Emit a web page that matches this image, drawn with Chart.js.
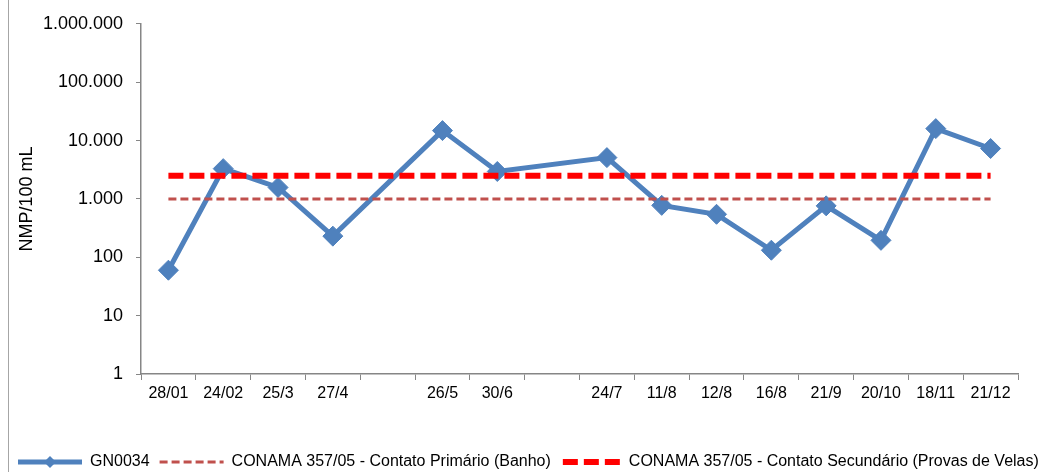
<!DOCTYPE html>
<html>
<head>
<meta charset="utf-8">
<script src="https://cdn.jsdelivr.net/npm/chart.js@4/dist/chart.umd.min.js"></script>
<style>
  html, body { margin: 0; padding: 0; background: #fff; }
  #wrap { position: relative; width: 1046px; height: 472px; }
  #borda { position: absolute; left: 8px; top: 0; width: 1px; height: 472px; background: #a6a6a6; }
</style>
</head>
<body>
<div id="wrap">
  <canvas id="myChart" width="1046" height="472"></canvas>
  <div id="borda"></div>
</div>
<script>
// datas das coletas (vazio = intervalo sem coleta)
const categorias = ['28/01', '24/02', '25/3', '27/4', '', '26/5', '30/6', '', '24/7', '11/8', '12/8', '16/8', '21/9', '20/10', '18/11', '21/12'];
// NMP/100 mL medidos no ponto GN0034
const gn0034 = [60, 3300, 1570, 230, null, 14800, 2950, null, 5100, 775, 545, 132, 760, 195, 16000, 7300];
// limites CONAMA 357/05
const contatoPrimario = [1000, 1000, 1000, 1000, 1000, 1000, 1000, 1000, 1000, 1000, 1000, 1000, 1000, 1000, 1000, 1000];
const contatoSecundario = [2500, 2500, 2500, 2500, 2500, 2500, 2500, 2500, 2500, 2500, 2500, 2500, 2500, 2500, 2500, 2500];
const ticksY = [1, 10, 100, 1000, 10000, 100000, 1000000];

const fonte = 'Liberation Sans, Arial, sans-serif';

function formataMilhar(v) {
    return String(v).replace(/\B(?=(\d{3})+(?!\d))/g, '.');
}

// legenda desenhada à mão (estilo Excel)
const legendaPlugin = {
    id: 'legendaExcel',
    afterDraw(chart) {
        const ctx = chart.ctx;
        const y = 462;
        let x = 18;
        ctx.save();
        ctx.font = '16px ' + fonte;
        ctx.textBaseline = 'middle';
        chart.data.datasets.forEach((ds, i) => {
            const w = i === 2 ? 58 : 64;
            ctx.strokeStyle = ds.borderColor;
            ctx.lineWidth = ds.borderWidth;
            ctx.setLineDash(ds.borderDash || []);
            ctx.beginPath();
            ctx.moveTo(x, y);
            ctx.lineTo(x + w, y);
            ctx.stroke();
            ctx.setLineDash([]);
            if (ds.pointRadius > 0) {
                const cx = x + w / 2, r = 6;
                ctx.fillStyle = ds.pointBackgroundColor;
                ctx.beginPath();
                ctx.moveTo(cx, y - r);
                ctx.lineTo(cx + r, y);
                ctx.lineTo(cx, y + r);
                ctx.lineTo(cx - r, y);
                ctx.closePath();
                ctx.fill();
            }
            x += w + 8;
            ctx.fillStyle = '#000';
            ctx.fillText(ds.label, x, y);
            x += ctx.measureText(ds.label).width + (i === 0 ? 10 : 12);
        });
        ctx.restore();
    }
};

const ctx = document.getElementById('myChart').getContext('2d');
const myChart = new Chart(ctx, {
    type: 'line',
    data: {
        labels: categorias,
        datasets: [{
            label: 'GN0034',
            data: gn0034,
            borderColor: '#4F81BD',
            backgroundColor: '#4F81BD',
            borderWidth: 5,
            pointStyle: 'rectRot',
            pointRadius: 10,
            pointBackgroundColor: '#4F81BD',
            pointBorderColor: '#4F81BD',
            pointBorderWidth: 1,
            spanGaps: true,
            tension: 0,
            order: 3
        }, {
            label: 'CONAMA 357/05 - Contato Primário (Banho)',
            data: contatoPrimario,
            borderColor: '#C0504D',
            borderWidth: 3,
            borderDash: [8, 4],
            pointRadius: 0,
            order: 2
        }, {
            label: 'CONAMA 357/05 - Contato Secundário (Provas de Velas)',
            data: contatoSecundario,
            borderColor: '#FF0000',
            borderWidth: 6,
            borderDash: [15, 6],
            pointRadius: 0,
            order: 1
        }]
    },
    options: {
        responsive: false,
        animation: false,
        layout: { padding: { top: 23, right: 28, bottom: 60, left: 0 } },
        plugins: {
            legend: { display: false },
            tooltip: { enabled: false }
        },
        scales: {
            x: {
                offset: true,
                grid: { offset: true, drawOnChartArea: false, color: '#868686', tickLength: 6 },
                border: { color: '#868686', width: 1.5 },
                ticks: { autoSkip: false, maxRotation: 0, color: '#000', padding: 4, font: { family: fonte, size: 16 } },
                afterFit(scale) { scale.height = 472 - 60 - 374; }
            },
            y: {
                type: 'logarithmic',
                min: 1,
                max: 1000000,
                grid: { drawOnChartArea: false, color: '#868686', tickLength: 5 },
                border: { color: '#868686', width: 1.5 },
                afterBuildTicks(scale) { scale.ticks = ticksY.map(v => ({ value: v })); },
                ticks: {
                    color: '#000',
                    padding: 13,
                    font: { family: fonte, size: 18 },
                    callback: v => formataMilhar(v)
                },
                title: {
                    display: true,
                    text: 'NMP/100 mL',
                    color: '#000',
                    font: { family: fonte, size: 18 },
                    padding: { top: 16, bottom: 0 }
                },
                afterFit(scale) { scale.width = 141; }
            }
        }
    },
    plugins: [legendaPlugin]
});
</script>
</body>
</html>
